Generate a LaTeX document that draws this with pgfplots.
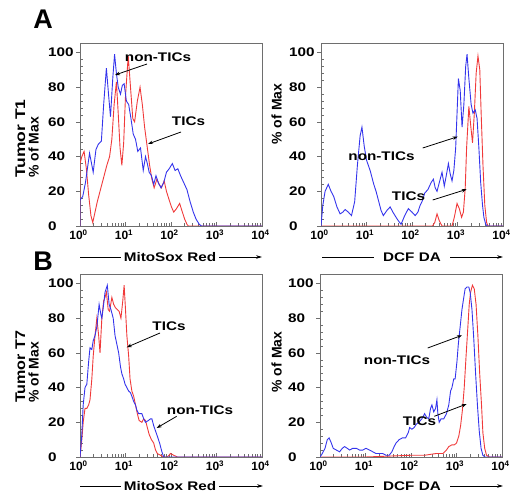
\documentclass[border=0pt]{standalone}
\usepackage{fontspec}
\setmainfont{Liberation Sans}
\newfontfamily\widefont[FakeStretch=1.22]{Liberation Sans}
\usepackage{pgfplots}
\pgfplotsset{compat=1.18}
\usetikzlibrary{arrows.meta}

\definecolor{nonTicBlue}{HTML}{3434EC}
\definecolor{ticRed}{HTML}{F03A3A}
\definecolor{frameGray}{HTML}{6E6E6E}

\newcommand{\tickfont}{\widefont\bfseries\fontsize{12.5}{14}\selectfont}
\newcommand{\xtickfont}{\bfseries\fontsize{12}{14}\selectfont}
\newcommand{\labfont}{\widefont\bfseries\fontsize{12.5}{14}\selectfont}
\newcommand{\ylabfont}{\bfseries\fontsize{14}{16}\selectfont}

% x is in decades of fluorescence (0 = 10^0 ... 4 = 10^4)
\pgfplotsset{
  facs/.style={
    scale only axis, width=182pt, height=183pt,
    xmin=0, xmax=4, ymin=0, ymax=105.5,
    axis line style={draw=frameGray, line width=0.7pt},
    tick style={draw=frameGray, line width=0.6pt},
    tick align=inside, tick pos=left,
    major tick length=4pt, minor tick length=2.5pt,
    major y tick style={xshift=-4pt},
    xtick={0,1,2,3,4},
    xticklabels={10\textsuperscript{0},10\textsuperscript{1},10\textsuperscript{2},10\textsuperscript{3},10\textsuperscript{4}},
    minor xtick={0.301,0.477,0.602,0.699,0.778,0.845,0.903,0.954,
                 1.301,1.477,1.602,1.699,1.778,1.845,1.903,1.954,
                 2.301,2.477,2.602,2.699,2.778,2.845,2.903,2.954,
                 3.301,3.477,3.602,3.699,3.778,3.845,3.903,3.954},
    ytick={0,20,40,60,80,100},
    yticklabels={0,20,40,60,80,100},
    minor y tick num=4,
    xticklabel style={font=\xtickfont, xshift=-1.5pt},
    yticklabel style={font=\tickfont, anchor=west, inner sep=0pt, xshift=-32pt},
  },
  nontic/.style={draw=nonTicBlue, line width=0.9pt, mark=none},
  tic/.style={draw=ticRed, line width=0.9pt, mark=none},
}
\tikzset{
  callout/.style={draw=black, line width=0.8pt, -{Stealth[length=5pt,width=3.6pt]}},
  lab/.style={font=\labfont, inner sep=0pt},
  xlab/.style={font=\labfont, fill=white, inner xsep=3pt, inner ysep=1pt},
  axarrow/.style={draw=black, line width=0.8pt, -{Stealth[length=6pt,width=3.6pt]}},
}

\begin{document}
\begin{tikzpicture}[x=1pt, y=1pt]
\path[use as bounding box] (0,0) rectangle (512,498);

% ---------- A, MitoSox Red ----------
\begin{axis}[facs, at={(80pt,272pt)}, anchor=south west]
\addplot[tic] coordinates {
(0,0) (0,36) (0.04,40) (0.09,43) (0.14,33) (0.19,18) (0.24,6) (0.28,2) (0.33,8) (0.38,14)
(0.44,20) (0.52,28) (0.59,35) (0.65,40) (0.70,50) (0.75,70) (0.80,83) (0.84,65) (0.88,45)
(0.92,35) (0.96,48) (1.00,75) (1.06,98) (1.11,80) (1.16,62) (1.20,60) (1.26,72) (1.32,80)
(1.37,70) (1.42,57) (1.48,45) (1.53,35) (1.58,27) (1.63,22) (1.69,27) (1.74,24) (1.79,22)
(1.85,26) (1.90,20) (1.96,15) (2.01,11) (2.06,8) (2.12,10) (2.19,13) (2.25,8) (2.30,4)
(2.35,1) (2.38,0) (4,0)};
\addplot[nontic] coordinates {
(0,0) (0,15) (0.06,17) (0.12,25) (0.21,42) (0.29,31) (0.35,44) (0.40,47) (0.47,49) (0.52,70)
(0.58,91) (0.63,75) (0.67,63) (0.72,85) (0.76,99) (0.80,88) (0.84,80) (0.89,76) (0.93,81)
(0.97,82) (1.02,72) (1.07,70) (1.12,62) (1.17,53) (1.22,50) (1.27,43) (1.33,45) (1.39,32)
(1.44,40) (1.48,36) (1.52,31) (1.57,29) (1.62,24) (1.67,29) (1.72,25) (1.78,22) (1.84,25)
(1.90,31) (1.96,33) (2.03,36) (2.09,32) (2.15,33) (2.21,29) (2.28,25) (2.35,21) (2.42,14)
(2.49,8) (2.55,4) (2.62,1) (2.67,0) (4,0)};
\end{axis}

% ---------- A, DCF DA ----------
\begin{axis}[facs, at={(321pt,272pt)}, anchor=south west]
\addplot[tic] coordinates {
(0,0) (2.45,0) (2.50,2) (2.55,7) (2.60,3) (2.66,0) (2.88,0) (2.93,5) (2.99,13) (3.04,10)
(3.09,5) (3.13,8) (3.17,22) (3.20,45) (3.25,69) (3.29,58) (3.33,48) (3.37,65) (3.41,88)
(3.45,98) (3.49,90) (3.52,65) (3.56,35) (3.60,12) (3.64,2) (3.67,0) (4,0)};
\addplot[nontic] coordinates {
(0,0) (0.04,12) (0.09,20) (0.16,24) (0.22,20) (0.28,17) (0.35,11) (0.42,7) (0.48,8) (0.53,9.5)
(0.60,8) (0.67,6) (0.74,14) (0.80,35) (0.86,52) (0.90,57) (0.95,46) (1.00,38) (1.08,32)
(1.16,24) (1.21,20) (1.26,15) (1.32,9) (1.37,6) (1.45,9) (1.52,11) (1.58,8) (1.65,5) (1.70,3)
(1.76,1) (1.84,6) (1.92,10) (2.00,8) (2.07,6) (2.13,8) (2.18,12) (2.22,14) (2.28,19) (2.35,21)
(2.42,25) (2.47,27) (2.51,22) (2.55,20) (2.60,25) (2.66,31) (2.71,23) (2.76,30) (2.80,36)
(2.84,30) (2.88,26) (2.92,32) (2.96,45) (2.99,65) (3.02,85) (3.06,78) (3.10,57) (3.14,70)
(3.18,92) (3.21,99) (3.25,85) (3.30,70) (3.34,65) (3.39,67) (3.43,62) (3.47,45) (3.51,25)
(3.55,12) (3.58,5) (3.62,1) (3.65,0) (4,0)};
\end{axis}

% ---------- B, MitoSox Red ----------
\begin{axis}[facs, at={(80pt,41pt)}, anchor=south west]
\addplot[tic] coordinates {
(0,0) (0.04,10) (0.07,20) (0.11,28) (0.15,28) (0.19,30) (0.22,33) (0.26,45) (0.29,58) (0.33,70)
(0.37,80) (0.41,70) (0.44,60) (0.48,80) (0.52,90) (0.55,92) (0.58,95) (0.62,85) (0.65,84)
(0.70,92) (0.74,88) (0.78,86) (0.82,85) (0.86,84) (0.90,80) (0.94,90) (0.97,99) (1.00,85)
(1.03,70) (1.07,58) (1.10,45) (1.14,38) (1.18,35) (1.22,30) (1.26,25) (1.30,21) (1.36,20)
(1.40,22) (1.44,21) (1.48,17) (1.52,13) (1.57,10) (1.62,8) (1.66,4) (1.70,2) (1.77,1) (1.84,0)
(1.92,0) (1.99,2) (2.06,1) (2.14,0) (4,0)};
\addplot[nontic] coordinates {
(0,0) (0.04,13) (0.07,30) (0.11,40) (0.15,42) (0.19,55) (0.22,63) (0.26,62) (0.29,67) (0.33,70)
(0.37,75) (0.42,88) (0.46,82) (0.48,80) (0.52,88) (0.55,95) (0.60,99) (0.64,88) (0.68,85)
(0.73,80) (0.77,70) (0.81,65) (0.85,60) (0.89,52) (0.92,48) (0.96,45) (0.99,42) (1.03,40)
(1.07,38) (1.11,37) (1.14,35) (1.18,32) (1.22,30) (1.25,27) (1.29,25) (1.33,25) (1.36,25)
(1.40,22) (1.44,20) (1.50,21) (1.55,22) (1.58,22) (1.62,18) (1.66,15) (1.70,12) (1.75,8)
(1.80,3) (1.84,0) (4,0)};
\end{axis}

% ---------- B, DCF DA ----------
\begin{axis}[facs, at={(320pt,41pt)}, anchor=south west]
\addplot[tic] coordinates {
(0,0) (1.0,0) (1.5,0.5) (2.0,1) (2.3,1) (2.55,2) (2.70,2) (2.78,4) (2.83,6) (2.90,7) (2.95,7)
(3.00,8) (3.05,12) (3.09,18) (3.13,27) (3.17,40) (3.21,58) (3.25,75) (3.28,88) (3.31,95)
(3.35,99) (3.39,97) (3.43,88) (3.47,70) (3.51,48) (3.55,30) (3.58,14) (3.62,5) (3.66,1)
(3.72,0) (4,0)};
\addplot[nontic] coordinates {
(0,0) (0.05,2) (0.11,5) (0.16,10) (0.20,11) (0.25,8) (0.29,5) (0.36,4) (0.43,3) (0.49,5)
(0.54,6) (0.60,5) (0.65,4) (0.72,5) (0.80,5) (0.87,4) (0.94,4) (1.01,5) (1.09,4) (1.16,3)
(1.23,2) (1.30,2) (1.38,2) (1.45,1) (1.52,1) (1.58,3) (1.63,6) (1.67,8) (1.74,10) (1.81,11)
(1.88,11) (1.94,14) (1.97,17) (2.02,16) (2.07,17) (2.12,19) (2.17,20) (2.24,22) (2.30,25)
(2.34,23) (2.39,22) (2.43,28) (2.46,30) (2.50,26) (2.54,28) (2.57,33) (2.59,25) (2.62,20)
(2.66,22) (2.72,22) (2.78,25) (2.83,30) (2.87,38) (2.90,40) (2.94,45) (2.97,45) (3.01,55)
(3.04,65) (3.08,75) (3.12,85) (3.16,92) (3.19,97) (3.23,98) (3.27,98) (3.30,95) (3.34,85)
(3.38,68) (3.42,48) (3.46,30) (3.50,15) (3.54,5) (3.58,1) (3.62,0) (4,0)};
\end{axis}

% panel letters
\node[font=\bfseries\fontsize{27}{30}\selectfont, inner sep=0pt] at (43,479) {A};
\node[font=\bfseries\fontsize{27}{30}\selectfont, inner sep=0pt] at (43,237) {B};

% y labels
\node[font=\ylabfont, rotate=90, anchor=west, inner sep=0pt] at (20.5,320) {\scalebox{1.25}[1]{Tumor T1}};
\node[font=\ylabfont, rotate=90, anchor=west, inner sep=0pt] at (33.5,320) {\% of Max};
\node[font=\ylabfont, rotate=90, inner sep=0pt] at (276.5,384) {\% of Max};
\node[font=\ylabfont, rotate=90, anchor=west, inner sep=0pt] at (20.5,95) {\scalebox{1.15}[1]{Tumor T7}};
\node[font=\ylabfont, rotate=90, anchor=west, inner sep=0pt] at (33.5,95) {\% of Max};
\node[font=\ylabfont, rotate=90, inner sep=0pt] at (276.5,136) {\% of Max};

% x labels with arrows
\draw[axarrow] (80,241) -- (262,241);
\node[xlab] at (170,241) {MitoSox Red};
\draw[axarrow] (322,241) -- (503,241);
\node[xlab, inner xsep=9pt] at (412,241) {DCF DA};
\draw[axarrow] (80,12) -- (263,12);
\node[xlab] at (170,12) {MitoSox Red};
\draw[axarrow] (320,12) -- (503,12);
\node[xlab, inner xsep=9pt] at (412,12) {DCF DA};

% callouts
\node[lab] at (158,440.5) {non-TICs};
\draw[callout] (147,434) -- (115,423);
\node[lab] at (188.5,376.5) {TICs};
\draw[callout] (181,366) -- (148,354);

\node[lab] at (381.5,342) {non-TICs};
\draw[callout] (422.7,350) -- (457.7,361.3);
\node[lab] at (408.5,301.5) {TICs};
\draw[callout] (432.7,298) -- (466.7,308.7);

\node[lab] at (169,171.5) {TICs};
\draw[callout] (160,165) -- (126.7,150.7);
\node[lab] at (200,87.5) {non-TICs};
\draw[callout] (176.7,81.7) -- (156.7,70);

\node[lab] at (397,137.5) {non-TICs};
\draw[callout] (427.7,150) -- (462,162.7);
\node[lab] at (419.5,76.7) {TICs};
\draw[callout] (434.3,81.7) -- (466.7,94);
\end{tikzpicture}
\end{document}
